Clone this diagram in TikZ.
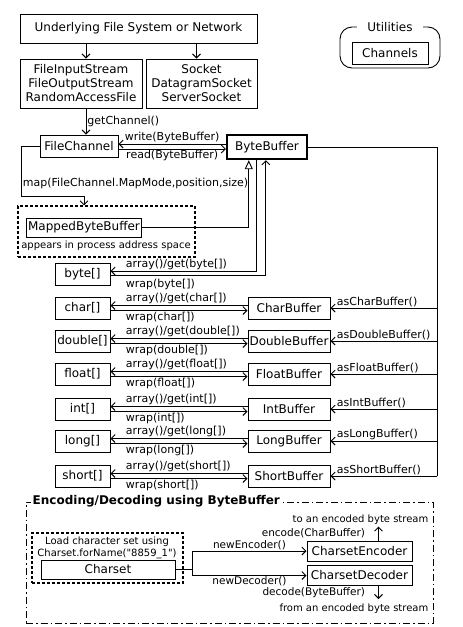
\documentclass[tikz,border=0pt]{standalone}
\usepackage{fontspec}
\setmainfont{DejaVu Sans}
\newfontfamily\codefont{DejaVu Sans}[Ligatures=ResetAll]
\usepackage{tikz}
\usetikzlibrary{arrows.meta,positioning,calc}
\tikzset{
    plain-line/.style = {draw, line width=0.9pt},
    call-arrow/.style = {plain-line, -{Straight Barb[length=4pt,width=8pt]}},
    inherit-arrow/.style = {plain-line, -{Triangle[open,length=9pt,width=8pt]}},
    class-box/.style = {draw, line width=1pt, rectangle, inner sep=1.5pt, minimum height=22pt, font=\fontsize{12}{14}\selectfont},
    dashed-frame/.style = {draw, line width=1.2pt, dash pattern=on 3pt off 2pt, rectangle, inner sep=0pt},
    dashdot-frame/.style = {draw, line width=1pt, dash pattern=on 7pt off 3pt on 1.5pt off 3pt, rectangle, inner sep=0pt},
    util-frame/.style = {draw, line width=0.9pt, rectangle, rounded corners=12pt, inner sep=0pt},
    frame-title/.style = {fill=white, inner sep=2pt, font=\bfseries\fontsize{12}{14}\selectfont},
    method-label/.style = {inner sep=1pt, font=\fontsize{11}{13}\selectfont},
    codec-label/.style = {inner sep=1pt, font=\fontsize{10.5}{12}\selectfont},
    note-label/.style = {inner sep=1pt, font=\fontsize{10}{12}\selectfont},
}

\begin{document}
\begin{tikzpicture}[x=1pt,y=-1pt]
\useasboundingbox (0,0) rectangle (463,627);

% sources and channels
\node [class-box, minimum width=237pt, minimum height=29pt] (fs) at (138.5,28.5) {Underlying File System or Network};
\node [class-box, minimum width=122pt, minimum height=49pt, align=center] (streams) at (81,83.5) {FileInputStream\\FileOutputStream\\RandomAccessFile};
\node [class-box, minimum width=111pt, minimum height=49pt, align=center] (sockets) at (201.5,83.5) {Socket\\DatagramSocket\\ServerSocket};
\node [util-frame, minimum width=100pt, minimum height=41pt] (utils) at (390,47.5) {};
\node [frame-title, font=\fontsize{12}{14}\selectfont, inner xsep=10pt] (utilstitle) at (utils.north) {Utilities};
\node [class-box, minimum width=76pt] (channels) at (390,53) {Channels};
\node [class-box, minimum width=78pt] (fchan) at (79,146) {FileChannel};
\node [class-box, line width=2.4pt, minimum width=80pt, minimum height=24pt] (bbuf) at (267,147) {ByteBuffer};
\coordinate (rail) at (437,147);

\draw [call-arrow] ($(streams.north |- fs.south)+(5,0)$) -- ($(streams.north)+(5,0)$);
\draw [call-arrow] ($(sockets.north |- fs.south)+(-5,0)$) -- ($(sockets.north)+(-5,0)$);
\draw [call-arrow] ($(streams.south)+(5,0)$) -- node[method-label, right] {getChannel()} ($(streams.south |- fchan.north)+(5,0)$);
\draw [call-arrow] ([yshift=3pt]bbuf.west) -- node[method-label, above] {write(ByteBuffer)} ([yshift=2pt]fchan.east);
\draw [call-arrow] ([yshift=-3pt]fchan.east) -- node[method-label, below] {read(ByteBuffer)} ([yshift=-2pt]bbuf.west);

% mapped buffer
\node [dashed-frame, minimum width=177pt, minimum height=51pt] (mapped) at (106.5,231.5) {};
\node [class-box, minimum width=114pt, minimum height=19pt] (mbbuf) at (84,227.5) {MappedByteBuffer};
\node [note-label] (procspace) at (106,246) {appears in process address space};
\draw [call-arrow] (fchan.west) -- ++(-18,0) -- node[method-label, right, pos=0.74] {map(FileChannel.MapMode,position,size)} ++(0,50) -| (mbbuf.north |- mapped.north);
\draw [inherit-arrow] (mbbuf.east) -| ([xshift=23pt]bbuf.south west);

% arrays and views
\node [class-box, minimum width=55pt] (bytearr) at (82.5,274) {byte[]};
\node [class-box, minimum width=55pt] (chararr) at (82.5,308) {char[]};
\node [class-box, minimum width=55pt] (doublearr) at (82.5,341) {double[]};
\node [class-box, minimum width=55pt] (floatarr) at (82.5,374) {float[]};
\node [class-box, minimum width=55pt] (intarr) at (82.5,409) {int[]};
\node [class-box, minimum width=55pt] (longarr) at (82.5,441) {long[]};
\node [class-box, minimum width=55pt] (shortarr) at (82.5,476) {short[]};
\node [class-box, minimum width=82pt] (charbuf) at (289,308) {CharBuffer};
\node [class-box, minimum width=82pt] (doublebuf) at (289,341) {DoubleBuffer};
\node [class-box, minimum width=82pt] (floatbuf) at (289,374) {FloatBuffer};
\node [class-box, minimum width=82pt] (intbuf) at (289,409) {IntBuffer};
\node [class-box, minimum width=82pt] (longbuf) at (289,441) {LongBuffer};
\node [class-box, minimum width=82pt] (shortbuf) at (289,476) {ShortBuffer};

\draw [call-arrow] ([xshift=31pt]bbuf.south west) |- ([yshift=3pt]bytearr.east) node[method-label, anchor=south west, xshift=14pt] {array()/get(byte[])};
\draw [call-arrow] ([yshift=-1pt]bytearr.east) node[method-label, anchor=north west, xshift=14pt, yshift=-3pt] {wrap(byte[])} -| ([xshift=40pt]bbuf.south west);
\draw [plain-line] (bbuf.east) -- (rail) -- (rail |- shortbuf.east);

\draw [call-arrow] ([yshift=2.5pt]charbuf.west) -- ([yshift=2.5pt]chararr.east) node[method-label, anchor=south west, xshift=14pt] {array()/get(char[])};
\draw [call-arrow] ([yshift=-2.5pt]chararr.east) node[method-label, anchor=north west, xshift=14pt] {wrap(char[])} -- ([yshift=-2.5pt]charbuf.west);
\draw [call-arrow] (rail |- charbuf.east) -- (charbuf.east) node[method-label, anchor=south west, xshift=5pt] {asCharBuffer()};

\draw [call-arrow] ([yshift=2.5pt]doublebuf.west) -- ([yshift=2.5pt]doublearr.east) node[method-label, anchor=south west, xshift=14pt] {array()/get(double[])};
\draw [call-arrow] ([yshift=-2.5pt]doublearr.east) node[method-label, anchor=north west, xshift=14pt] {wrap(double[])} -- ([yshift=-2.5pt]doublebuf.west);
\draw [call-arrow] (rail |- doublebuf.east) -- (doublebuf.east) node[method-label, anchor=south west, xshift=5pt] {asDoubleBuffer()};

\draw [call-arrow] ([yshift=2.5pt]floatbuf.west) -- ([yshift=2.5pt]floatarr.east) node[method-label, anchor=south west, xshift=14pt] {array()/get(float[])};
\draw [call-arrow] ([yshift=-2.5pt]floatarr.east) node[method-label, anchor=north west, xshift=14pt] {wrap(float[])} -- ([yshift=-2.5pt]floatbuf.west);
\draw [call-arrow] (rail |- floatbuf.east) -- (floatbuf.east) node[method-label, anchor=south west, xshift=5pt] {asFloatBuffer()};

\draw [call-arrow] ([yshift=2.5pt]intbuf.west) -- ([yshift=2.5pt]intarr.east) node[method-label, anchor=south west, xshift=14pt] {array()/get(int[])};
\draw [call-arrow] ([yshift=-2.5pt]intarr.east) node[method-label, anchor=north west, xshift=14pt] {wrap(int[])} -- ([yshift=-2.5pt]intbuf.west);
\draw [call-arrow] (rail |- intbuf.east) -- (intbuf.east) node[method-label, anchor=south west, xshift=5pt] {asIntBuffer()};

\draw [call-arrow] ([yshift=2.5pt]longbuf.west) -- ([yshift=2.5pt]longarr.east) node[method-label, anchor=south west, xshift=14pt] {array()/get(long[])};
\draw [call-arrow] ([yshift=-2.5pt]longarr.east) node[method-label, anchor=north west, xshift=14pt] {wrap(long[])} -- ([yshift=-2.5pt]longbuf.west);
\draw [call-arrow] (rail |- longbuf.east) -- (longbuf.east) node[method-label, anchor=south west, xshift=5pt] {asLongBuffer()};

\draw [call-arrow] ([yshift=2.5pt]shortbuf.west) -- ([yshift=2.5pt]shortarr.east) node[method-label, anchor=south west, xshift=14pt] {array()/get(short[])};
\draw [call-arrow] ([yshift=-2.5pt]shortarr.east) node[method-label, anchor=north west, xshift=14pt] {wrap(short[])} -- ([yshift=-2.5pt]shortbuf.west);
\draw [call-arrow] (rail |- shortbuf.east) -- (shortbuf.east) node[method-label, anchor=south west, xshift=5pt] {asShortBuffer()};

% encoding and decoding
\node [dashdot-frame, minimum width=407pt, minimum height=121pt] (codec) at (229.5,562.5) {};
\node [frame-title, anchor=west] (codectitle) at ([xshift=5pt]codec.north west) {Encoding/Decoding using ByteBuffer};
\node [dashed-frame, minimum width=151pt, minimum height=50pt] (loadset) at (107.5,558) {};
\node [note-label] (loadtext) at (107,542) {Load character set using};
\node [note-label] (fornametext) at (107,554) {\codefont Charset.forName("8859\_1")};
\node [class-box, minimum width=134pt, minimum height=19pt] (charset) at (108,569.5) {Charset};
\node [class-box, minimum width=105pt, minimum height=20pt] (encoder) at (359.5,551) {CharsetEncoder};
\node [class-box, minimum width=105pt, minimum height=20pt] (decoder) at (359.5,575.5) {CharsetDecoder};

\draw [plain-line] (charset.east) -- ++(17,0) coordinate (fork);
\draw [call-arrow] (fork) |- node[codec-label, above, pos=0.75] {newEncoder()} (encoder.west);
\draw [call-arrow] (fork) |- node[codec-label, below, pos=0.75] {newDecoder()} (decoder.west);
\draw [call-arrow] ([xshift=-34pt]encoder.north east) -- node[codec-label, left=12pt] {encode(CharBuffer)} ++(0,-14) coordinate (encout);
\draw [call-arrow] ([xshift=-34pt]decoder.south east) -- node[codec-label, left=12pt] {decode(ByteBuffer)} ++(0,13) coordinate (decout);
\node [note-label, anchor=east] (tostream) at ([xshift=51pt,yshift=7pt]encout) {to an encoded byte stream};
\node [note-label, anchor=east] (fromstream) at ([xshift=51pt,yshift=-10pt]decout) {from an encoded byte stream};
\end{tikzpicture}
\end{document}
